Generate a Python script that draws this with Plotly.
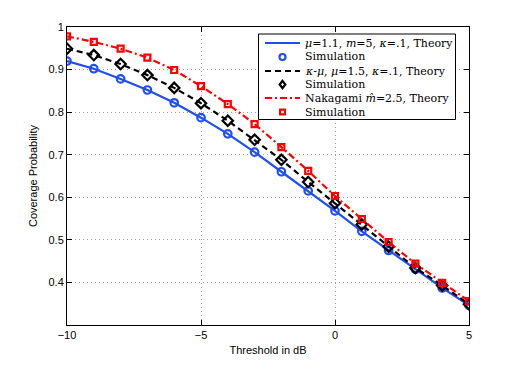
import plotly.graph_objects as go

threshold_db = [-10, -9, -8, -7, -6, -5, -4, -3, -2, -1, 0, 1, 2, 3, 4, 5]

blue_theory = [0.920, 0.902, 0.878, 0.852, 0.822, 0.787, 0.749, 0.706, 0.660, 0.615, 0.568, 0.520, 0.475, 0.431, 0.387, 0.346]
blue_sim    = [0.920, 0.902, 0.878, 0.852, 0.822, 0.787, 0.749, 0.706, 0.660, 0.615, 0.568, 0.520, 0.475, 0.431, 0.387, 0.346]

black_theory = [0.949, 0.934, 0.913, 0.887, 0.857, 0.821, 0.780, 0.735, 0.688, 0.636, 0.586, 0.536, 0.484, 0.434, 0.393, 0.349]
black_sim    = [0.949, 0.934, 0.913, 0.887, 0.857, 0.821, 0.780, 0.735, 0.688, 0.636, 0.586, 0.536, 0.484, 0.434, 0.393, 0.349]

red_theory = [0.978, 0.965, 0.949, 0.928, 0.899, 0.861, 0.819, 0.772, 0.718, 0.662, 0.603, 0.549, 0.495, 0.444, 0.399, 0.356]
red_sim    = [0.978, 0.965, 0.949, 0.928, 0.899, 0.861, 0.819, 0.772, 0.718, 0.662, 0.603, 0.549, 0.495, 0.444, 0.399, 0.356]

x_ticks = [-10, -5, 0, 5]
x_ticktext = ["−10", "−5", "0", "5"]
y_ticks = [0.4, 0.5, 0.6, 0.7, 0.8, 0.9, 1.0]
y_ticktext = ["0.4", "0.5", "0.6", "0.7", "0.8", "0.9", "1"]

names = [
    "<i>μ</i>=1.1, <i>m</i>=5, <i>κ</i>=.1, Theory",
    "Simulation",
    "<i>κ</i>-<i>μ</i>, <i>μ</i>=1.5, <i>κ</i>=.1, Theory",
    "Simulation",
    "Nakagami <i>m̂</i>=2.5, Theory",
    "Simulation",
]

BLUE = "#1f4ff0"
BLACK = "#000000"
RED = "#ff0000"
SANS = "Liberation Sans, Arial, sans-serif"
SERIF = "DejaVu Serif, Liberation Serif, serif"
LW = 2.2
BLACK_DASH = "6px,4px"
RED_DASH = "7px,3px,2px,3px"

fig = go.Figure()
fig.add_trace(go.Scatter(x=threshold_db, y=blue_theory, mode="lines", name=names[0],
                         line=dict(color=BLUE, width=LW)))
fig.add_trace(go.Scatter(x=threshold_db, y=blue_sim, mode="markers", name=names[1],
                         marker=dict(symbol="circle-open", size=7.5, color=BLUE, line=dict(width=LW, color=BLUE))))
fig.add_trace(go.Scatter(x=threshold_db, y=black_theory, mode="lines", name=names[2],
                         line=dict(color=BLACK, width=LW, dash=BLACK_DASH)))
fig.add_trace(go.Scatter(x=threshold_db, y=black_sim, mode="markers", name=names[3],
                         marker=dict(symbol="diamond-open", size=8, color=BLACK, line=dict(width=LW, color=BLACK))))
fig.add_trace(go.Scatter(x=threshold_db, y=red_theory, mode="lines", name=names[4],
                         line=dict(color=RED, width=LW, dash=RED_DASH)))
fig.add_trace(go.Scatter(x=threshold_db, y=red_sim, mode="markers", name=names[5],
                         marker=dict(symbol="square-open", size=6, color=RED, line=dict(width=LW, color=RED))))

axis_common = dict(
    showline=True, linecolor="black", linewidth=1, mirror="ticks",
    ticks="inside", ticklen=5, tickcolor="black",
    showgrid=True, gridcolor="#a0a0a0", griddash="1px,3px", gridwidth=1,
    zeroline=False,
    tickfont=dict(family=SANS, size=11, color="black"),
)

fig.update_xaxes(range=[-10, 5], tickvals=x_ticks, ticktext=x_ticktext,
                 title=dict(text="Threshold in dB", font=dict(family=SANS, size=11, color="black"), standoff=6),
                 **axis_common)
fig.update_yaxes(range=[0.3, 1.0], tickvals=y_ticks, ticktext=y_ticktext,
                 title=dict(text="Coverage Probability", font=dict(family=SANS, size=11, color="black"), standoff=8),
                 **axis_common)

# ---- MATLAB-style compact legend drawn in paper coordinates ----
ML, MR, MT, MB = 59, 58, 19, 50
W, H = 519, 367
PAGE_OFF = 8  # default body margin of the html page
PW = W - ML - MR
PH = H - MT - MB


def px(p):
    return (p - PAGE_OFF - ML) / PW


def py(p):
    return 1 - (p - PAGE_OFF - MT) / PH


shapes = []
annotations = []
box_l, box_r, box_t, box_b = 258.5, 455.5, 34, 119.5
shapes.append(dict(type="rect", xref="paper", yref="paper", layer="above",
                   x0=px(box_l), x1=px(box_r), y0=py(box_b), y1=py(box_t),
                   fillcolor="white", line=dict(color="black", width=1)))
row_y = [43, 57, 71, 84.5, 98, 112]
sample_l, sample_r, mark_c, text_x = 265, 300, 282.5, 303
styles = [
    ("line", BLUE, "solid"),
    ("circle", BLUE, None),
    ("line", BLACK, BLACK_DASH),
    ("diamond", BLACK, None),
    ("line", RED, RED_DASH),
    ("square", RED, None),
]
for (kind, color, dash), yy, label in zip(styles, row_y, names):
    if kind == "line":
        shapes.append(dict(type="line", xref="paper", yref="paper", layer="above",
                           x0=px(sample_l), x1=px(sample_r), y0=py(yy), y1=py(yy),
                           line=dict(color=color, width=LW, dash=dash)))
    elif kind == "circle":
        r = 3.0
        shapes.append(dict(type="circle", xref="paper", yref="paper", layer="above",
                           x0=px(mark_c - r), x1=px(mark_c + r), y0=py(yy + r), y1=py(yy - r),
                           line=dict(color=color, width=LW)))
    elif kind == "square":
        r = 2.4
        shapes.append(dict(type="rect", xref="paper", yref="paper", layer="above",
                           x0=px(mark_c - r), x1=px(mark_c + r), y0=py(yy + r), y1=py(yy - r),
                           line=dict(color=color, width=LW)))
    else:
        rx, ry = 2.8, 3.6
        path = (f"M {px(mark_c)},{py(yy - ry)} L {px(mark_c + rx)},{py(yy)} "
                f"L {px(mark_c)},{py(yy + ry)} L {px(mark_c - rx)},{py(yy)} Z")
        shapes.append(dict(type="path", xref="paper", yref="paper", layer="above",
                           path=path, line=dict(color=color, width=LW)))
    annotations.append(dict(xref="paper", yref="paper", x=px(text_x), y=py(yy),
                            xanchor="left", yanchor="middle", showarrow=False,
                            text=label, align="left",
                            font=dict(family=SERIF, size=11, color="black")))

fig.update_layout(
    width=W, height=H,
    margin=dict(l=ML, r=MR, t=MT, b=MB),
    paper_bgcolor="white", plot_bgcolor="white",
    showlegend=False,
    shapes=shapes,
    annotations=annotations,
)

fig.write_html("out.html")
